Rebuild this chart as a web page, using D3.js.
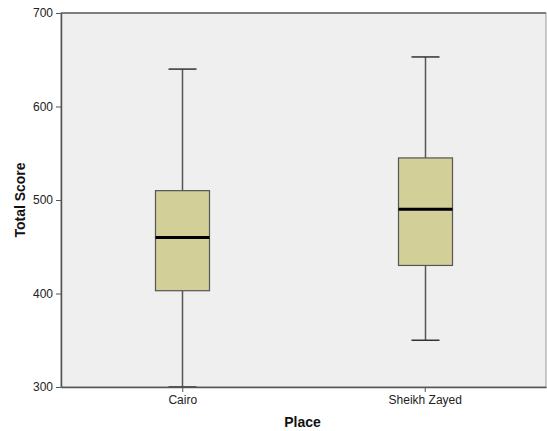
<!DOCTYPE html>
<html>
<head>
<meta charset="utf-8">
<script src="https://cdn.jsdelivr.net/npm/d3@7"></script>
<style>
  html, body { margin: 0; padding: 0; background: #fff; }
  svg { display: block; font-family: Arial, "Liberation Sans", sans-serif; }
</style>
</head>
<body>
<svg id="chart" width="547" height="431"></svg>
<script>
// Box plot summary per place
const places = ["Cairo", "Sheikh Zayed"];
const whiskerLow = [300, 350];
const quartile1 = [403, 430];
const medians = [460, 490];
const quartile3 = [510, 545];
const whiskerHigh = [640, 653];
const yTicks = [300, 400, 500, 600, 700];

const rows = places.map((p, i) => ({
  place: p, lo: whiskerLow[i], q1: quartile1[i], med: medians[i], q3: quartile3[i], hi: whiskerHigh[i]
}));

const svg = d3.select("#chart");
const margin = { left: 61, right: 1, top: 13, bottom: 44 };
const W = 547, H = 431;

const x = d3.scalePoint().domain(places).range([margin.left, W - margin.right]).padding(0.5);
const y = d3.scaleLinear().domain([300, 700]).range([H - margin.bottom, margin.top]);

// plot background
svg.append("rect")
  .attr("x", margin.left).attr("y", margin.top)
  .attr("width", W - margin.right - margin.left)
  .attr("height", H - margin.bottom - margin.top)
  .attr("fill", "#efefef")
  .attr("stroke", "#999").attr("stroke-width", 1);
svg.append("line")
  .attr("x1", margin.left).attr("x2", W - margin.right)
  .attr("y1", margin.top).attr("y2", margin.top)
  .attr("stroke", "#666").attr("stroke-width", 1.5);

const boxW = 54, capW = 28;
const g = svg.append("g");
rows.forEach(d => {
  const cx = Math.round(x(d.place)) + 0.5;
  // whisker stems
  g.append("line").attr("x1", cx).attr("x2", cx).attr("y1", y(d.hi)).attr("y2", y(d.q3))
    .attr("stroke", "#555").attr("stroke-width", 1.5);
  g.append("line").attr("x1", cx).attr("x2", cx).attr("y1", y(d.q1)).attr("y2", y(d.lo))
    .attr("stroke", "#555").attr("stroke-width", 1.5);
  // caps
  [d.hi, d.lo].forEach(v => {
    g.append("line").attr("x1", cx - capW / 2).attr("x2", cx + capW / 2)
      .attr("y1", y(v)).attr("y2", y(v))
      .attr("stroke", "#333").attr("stroke-width", 1.5);
  });
  // box
  g.append("rect")
    .attr("x", cx - boxW / 2).attr("y", y(d.q3))
    .attr("width", boxW).attr("height", y(d.q1) - y(d.q3))
    .attr("fill", "#d3cf99").attr("stroke", "#555").attr("stroke-width", 1.2);
  // median
  g.append("line").attr("x1", cx - boxW / 2).attr("x2", cx + boxW / 2)
    .attr("y1", y(d.med)).attr("y2", y(d.med))
    .attr("stroke", "#000").attr("stroke-width", 3);
});

// axes
const yAxis = svg.append("g")
  .attr("transform", `translate(${margin.left},0)`)
  .call(d3.axisLeft(y).tickValues(yTicks).tickSize(5).tickSizeOuter(0).tickPadding(3).tickFormat(d3.format("d")));
const xAxis = svg.append("g")
  .attr("transform", `translate(0,${H - margin.bottom})`)
  .call(d3.axisBottom(x).tickSize(5).tickSizeOuter(0).tickPadding(3));

[yAxis, xAxis].forEach(a => {
  a.select(".domain").attr("stroke", "#555").attr("stroke-width", 1.5);
  a.selectAll(".tick line").attr("stroke", "#555");
  a.selectAll(".tick text").attr("fill", "#222").style("font-size", "12px")
    .style("font-family", "Arial, 'Liberation Sans', sans-serif");
});

// axis titles
svg.append("text")
  .attr("x", (margin.left + W - margin.right) / 2 - 1).attr("y", 427)
  .attr("text-anchor", "middle")
  .style("font-size", "14px").style("font-weight", "bold").attr("fill", "#111")
  .text("Place");
svg.append("text")
  .attr("transform", `translate(25,${(margin.top + H - margin.bottom) / 2}) rotate(-90)`)
  .attr("text-anchor", "middle")
  .style("font-size", "14px").style("font-weight", "bold").attr("fill", "#111")
  .text("Total Score");
</script>
</body>
</html>
